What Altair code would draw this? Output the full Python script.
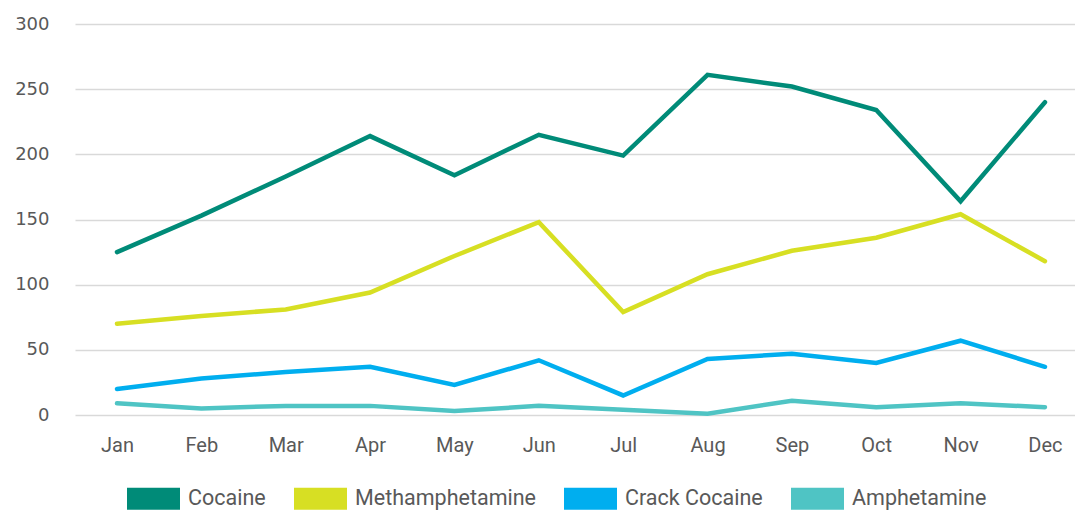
import altair as alt
import pandas as pd

months = ["Jan", "Feb", "Mar", "Apr", "May", "Jun", "Jul", "Aug", "Sep", "Oct", "Nov", "Dec"]
series = ["Cocaine", "Methamphetamine", "Crack Cocaine", "Amphetamine"]
cocaine = [125, 153, 183, 214, 184, 215, 199, 261, 252, 234, 164, 240]
meth = [70, 76, 81, 94, 122, 148, 79, 108, 126, 136, 154, 118]
crack = [20, 28, 33, 37, 23, 42, 15, 43, 47, 40, 57, 37]
amph = [9, 5, 7, 7, 3, 7, 4, 1, 11, 6, 9, 6]
colors = ["#008b78", "#d7df23", "#00aeef", "#4fc4c4"]
y_ticks = [0, 50, 100, 150, 200, 250, 300]

rows = []
for name, vals in zip(series, [cocaine, meth, crack, amph]):
    for m, v in zip(months, vals):
        rows.append({"month": m, "drug": name, "value": v})
df = pd.DataFrame(rows)

FONT = "Roboto"
TXT = "#595959"
RECT = "M-1,-0.415H1V0.415H-1Z"

x_enc = alt.X("month:N", sort=months,
              scale=alt.Scale(type="point", padding=0.427, align=0.583),
              axis=alt.Axis(title=None, domain=False, ticks=False, grid=False,
                            labelAngle=0, labelPadding=20, labelFontSize=20,
                            labelFont=FONT, labelColor=TXT))
y_enc = alt.Y("value:Q", scale=alt.Scale(domain=[0, 300]),
              axis=alt.Axis(title=None, domain=False, ticks=False, values=y_ticks,
                            labelPadding=26, labelFontSize=18, labelFont="DejaVu Sans",
                            labelColor=TXT, gridColor="#d9d9d9", gridWidth=1.5))
cscale = alt.Scale(domain=series, range=colors)

base = alt.Chart(df)

lines = base.mark_line(strokeWidth=4.5, strokeCap="round").encode(
    x=x_enc, y=y_enc,
    color=alt.Color("drug:N", sort=series, scale=cscale, legend=None),
)

keys = base.mark_point(shape=RECT, filled=True, opacity=1).encode(
    x=x_enc, y=y_enc,
    size=alt.value(0),
    color=alt.Color("drug:N", sort=series, scale=cscale,
                    legend=alt.Legend(orient="none", legendX=52, legendY=448,
                                      direction="horizontal", title=None,
                                      symbolType=RECT, symbolSize=2809,
                                      symbolStrokeWidth=0, padding=0,
                                      labelFontSize=21.5, labelFont=FONT,
                                      labelColor=TXT, labelOffset=8,
                                      labelLimit=400, columnPadding=28)),
)

chart = alt.layer(lines, keys).resolve_legend(color="independent").properties(
    width=1000, height=391,
    autosize=alt.AutoSizeParams(type="none"),
    padding={"left": 75, "top": 24, "right": 0, "bottom": 95},
    background="white",
).configure_view(stroke=None)

chart.save("out.html", embed_options={"renderer": "svg", "actions": False})
